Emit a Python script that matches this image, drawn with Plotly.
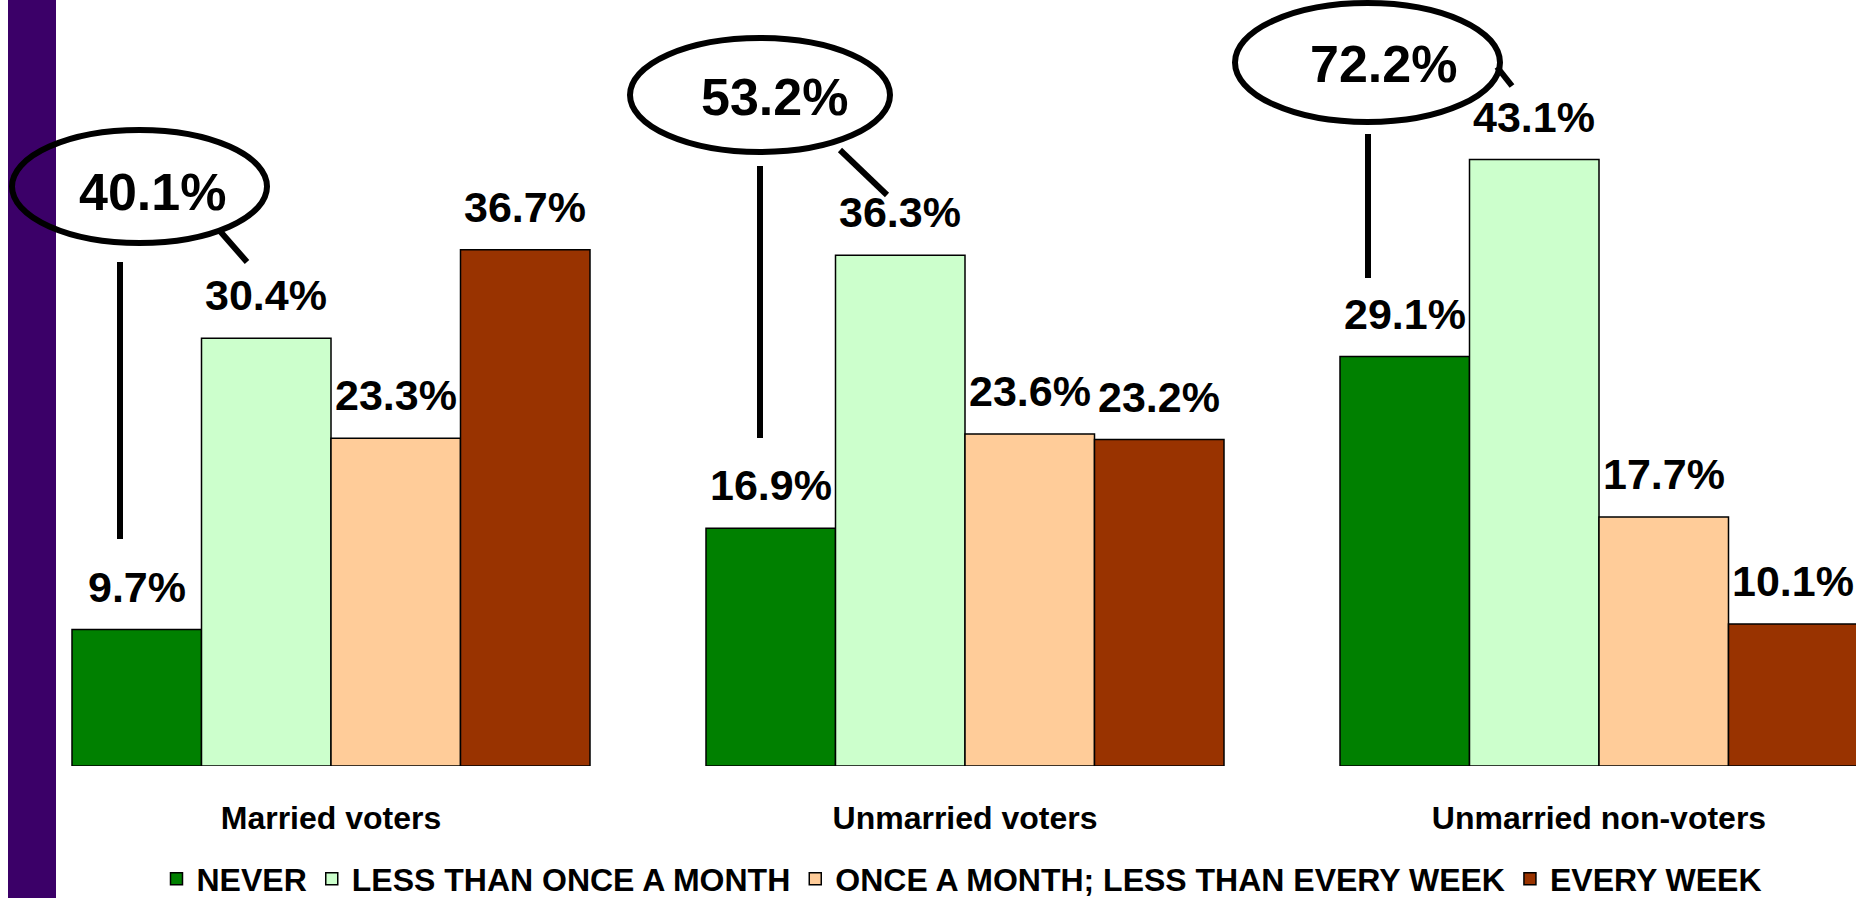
import plotly.graph_objects as go

# ---- data ----
groups = ["Married voters", "Unmarried voters", "Unmarried non-voters"]
series_names = ["NEVER", "LESS THAN ONCE A MONTH", "ONCE A MONTH; LESS THAN EVERY WEEK", "EVERY WEEK"]
never = [9.7, 16.9, 29.1]
less_than_monthly = [30.4, 36.3, 43.1]
monthly = [23.3, 23.6, 17.7]
weekly = [36.7, 23.2, 10.1]

# ---- styling / layout ----
colors = ["#008000", "#CCFFCC", "#FFCC99", "#993300"]
W, H = 1856, 898
BASE_PX = 766          # pixel row of the zero line
PX_PER_UNIT_Y = 14.07  # pixels per percentage point
GROUP_PX = 634         # pixels between group centres
FIRST_GROUP_PX = 331   # pixel column of first group centre
BARGAP = 116 / 634
FONT = "Arial, Liberation Sans, sans-serif"

x_range = [-FIRST_GROUP_PX / GROUP_PX, (W - FIRST_GROUP_PX) / GROUP_PX]
y_range = [0, BASE_PX / PX_PER_UNIT_Y]


def dx(px):
    return (px - FIRST_GROUP_PX) / GROUP_PX


def dy(py):
    return (BASE_PX - py) / PX_PER_UNIT_Y


series = [never, less_than_monthly, monthly, weekly]
xs = list(range(len(groups)))

fig = go.Figure()
for name, vals, col in zip(series_names, series, colors):
    fig.add_trace(go.Bar(
        x=xs, y=vals, name=name,
        marker=dict(color=col, line=dict(color="#000000", width=1.5)),
        hoverinfo="skip",
    ))

# value labels above every bar
bar_w = (1 - BARGAP) / len(series)
annotations = []
for j, vals in enumerate(series):
    for i, v in enumerate(vals):
        annotations.append(dict(
            x=i + (j - 1.5) * bar_w, y=v, xref="x", yref="y",
            text=f"{v:.1f}%", showarrow=False, yanchor="middle", yshift=43,
            font=dict(family=FONT, size=43, color="#000000", weight="bold"),
        ))

# circled totals (never + less than once a month)
totals = [a + b for a, b in zip(never, less_than_monthly)]
ellipse_px = [(12, 267, 130, 243), (630, 890, 38, 152), (1235, 1500, 3, 122)]
total_text_px = [(152, 192), (774, 97), (1383, 64)]
diag_px = [((219, 230), (247, 262)), ((840, 150), (887, 195)), ((1497, 67), (1512, 86))]
vert_px = [(120, 262, 539), (760, 166, 438), (1368, 134, 278)]

shapes = []
# purple side stripe (drawn first so the callout ellipse overlays it)
shapes.append(dict(type="rect", xref="paper", yref="paper",
                   x0=8 / W, x1=56 / W, y0=-(H - BASE_PX) / BASE_PX, y1=1,
                   fillcolor="#3B0068", line=dict(width=0), layer="above"))
for (x0, x1, y0, y1) in ellipse_px:
    shapes.append(dict(type="circle", xref="x", yref="y",
                       x0=dx(x0), x1=dx(x1), y0=dy(y1), y1=dy(y0),
                       line=dict(color="#000000", width=6)))
for (p0, p1) in diag_px:
    shapes.append(dict(type="line", xref="x", yref="y",
                       x0=dx(p0[0]), y0=dy(p0[1]), x1=dx(p1[0]), y1=dy(p1[1]),
                       line=dict(color="#000000", width=6)))
for (vx, vy0, vy1) in vert_px:
    shapes.append(dict(type="line", xref="x", yref="y",
                       x0=dx(vx), y0=dy(vy0), x1=dx(vx), y1=dy(vy1),
                       line=dict(color="#000000", width=6)))

for t, (tx, ty) in zip(totals, total_text_px):
    annotations.append(dict(
        x=dx(tx), y=dy(ty), xref="x", yref="y", text=f"{t:.1f}%",
        showarrow=False, xanchor="center", yanchor="middle",
        font=dict(family=FONT, size=52, color="#000000", weight="bold"),
    ))

fig.update_layout(
    width=W, height=H,
    margin=dict(l=0, r=0, t=0, b=H - BASE_PX, pad=0, autoexpand=False),
    paper_bgcolor="white", plot_bgcolor="white",
    barmode="group", bargap=BARGAP, bargroupgap=0,
    xaxis=dict(range=x_range, tickvals=xs, ticktext=groups, showgrid=False,
               zeroline=False, showline=False, ticks="", ticklabelstandoff=30,
               tickfont=dict(family=FONT, size=32, color="#000000", weight="bold")),
    yaxis=dict(range=y_range, visible=False, showgrid=False, zeroline=False),
    showlegend=True,
    legend=dict(orientation="h", x=962 / W, xanchor="center",
                y=-(879 - BASE_PX) / BASE_PX, yanchor="middle",
                font=dict(family=FONT, size=32, color="#000000", weight="bold"),
                itemclick=False, itemdoubleclick=False, tracegroupgap=0),
    shapes=shapes, annotations=annotations,
)

fig.write_html("out.html", config={"displayModeBar": False},
               post_script="document.body.style.margin='0';document.body.style.overflow='hidden';")
